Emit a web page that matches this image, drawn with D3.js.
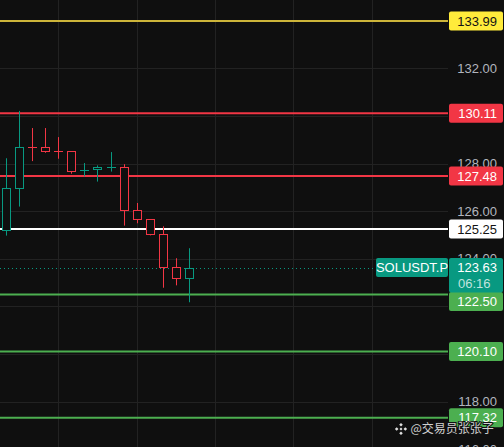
<!DOCTYPE html>
<html><head><meta charset="utf-8">
<script src="https://cdn.jsdelivr.net/npm/d3@7/dist/d3.min.js"></script>
<style>
html,body{margin:0;padding:0;background:#0f0f0f;overflow:hidden}
svg{display:block}
</style></head>
<body>
<svg id="c" width="504" height="447" font-family="Liberation Sans, Arial, sans-serif"></svg>
<script>
// ---- data ----
const opens  = [125.21,126.96,128.68,128.68,128.51,128.51,127.71,127.76,127.83,127.84,126.03,125.66,125.03,123.64,123.18];
const closes = [126.96,128.68,128.67,128.51,128.50,127.67,127.72,127.84,127.84,126.03,125.66,125.03,123.64,123.18,123.63];
const highs  = [128.22,130.21,129.49,129.49,129.11,128.51,128.02,127.92,128.48,127.97,126.34,125.66,125.36,124.02,124.44];
const lows   = [124.97,126.19,128.10,128.45,128.20,127.57,127.46,127.24,127.66,125.39,125.49,124.98,122.78,122.88,122.17];
const levels = [133.99,130.11,127.48,125.25,122.50,120.10,117.32];
const levelKinds = ["yellow","red","red","white","green","green","green"];
const yTicks = [132,130,128,126,124,122,120,118,116];
const yTickLabels = [132,128,126,124,118,116]; // the others are hidden behind level labels
const timeGrid = [4,10,16,22,28];
const symbol = "SOLUSDT.P";
const lastPrice = 123.63;
const countdown = "06:16";
const watermark = "@交易员张张子";

// ---- styles ----
const BG="#0f0f0f", GRID="#222222", UP="#089981", DOWN="#f23645";
const kindStyle = {
  yellow:{line:"#cdb53a", box:"#ffeb3b", text:"#131313"},
  red:{line:"#f23645", box:"#f23645", text:"#ffffff"},
  white:{line:"#ffffff", box:"#ffffff", text:"#131313"},
  green:{line:"#4caf50", box:"#4caf50", text:"#ffffff"}
};

const svg = d3.select("#c");
const plotR = 448;
const y = d3.scaleLinear().domain([116,132]).range([68.3+16*23.8, 68.3]);
const x = d3.scaleLinear().domain([4,10]).range([58.3,136.6]);

svg.append("rect").attr("width",504).attr("height",447).attr("fill",BG);

// grid
const g = svg.append("g");
g.selectAll("line.h").data(yTicks).join("line")
  .attr("x1",0).attr("x2",plotR)
  .attr("y1",d=>Math.round(y(d))+0.5).attr("y2",d=>Math.round(y(d))+0.5)
  .attr("stroke",GRID).attr("stroke-width",1);
g.selectAll("line.v").data(timeGrid).join("line")
  .attr("y1",0).attr("y2",447)
  .attr("x1",d=>Math.round(x(d))+0.5).attr("x2",d=>Math.round(x(d))+0.5)
  .attr("stroke",GRID).attr("stroke-width",1);

// axis tick labels
const axis = d3.axisRight(y).tickValues(yTickLabels).tickSize(0).tickFormat(d3.format(".2f"));
const ax = svg.append("g").attr("transform",`translate(${plotR},0)`).call(axis);
ax.select(".domain").remove();
ax.attr("font-family",null).attr("font-size",null);
ax.selectAll("text").attr("x",497-plotR).attr("text-anchor","end")
  .attr("fill","#b2b5be").style("font-size","13px").style("font-family","Liberation Sans, Arial, sans-serif");

// level lines
svg.append("g").selectAll("line").data(levels).join("line")
  .attr("x1",0).attr("x2",plotR)
  .attr("y1",d=>y(d)).attr("y2",d=>y(d))
  .attr("stroke",(d,i)=>kindStyle[levelKinds[i]].line).attr("stroke-width",2);

// last price dotted line
svg.append("line").attr("x1",0).attr("x2",376)
  .attr("y1",Math.round(y(lastPrice))+0.5).attr("y2",Math.round(y(lastPrice))+0.5)
  .attr("stroke",UP).attr("stroke-width",1).attr("stroke-dasharray","1,3");

// candles
const idx = d3.range(opens.length);
const cg = svg.append("g");
cg.selectAll("line.wick").data(idx).join("line")
  .attr("x1",i=>Math.round(x(i))+0.5).attr("x2",i=>Math.round(x(i))+0.5)
  .attr("y1",i=>y(highs[i])).attr("y2",i=>y(lows[i]))
  .attr("stroke",i=>closes[i]>=opens[i]?UP:DOWN).attr("stroke-width",1);
idx.forEach(i=>{
  const col = closes[i]>=opens[i]?UP:DOWN;
  const cx = Math.round(x(i));
  const y0 = y(Math.max(opens[i],closes[i])), y1 = y(Math.min(opens[i],closes[i]));
  if (y1-y0 < 1.2) {
    cg.append("line").attr("x1",cx-4).attr("x2",cx+5)
      .attr("y1",Math.round(y0)+0.5).attr("y2",Math.round(y0)+0.5)
      .attr("stroke",col).attr("stroke-width",1);
  } else {
    cg.append("rect").attr("x",cx-3.5).attr("width",8)
      .attr("y",Math.round(y0)+0.5).attr("height",Math.round(y1)-Math.round(y0))
      .attr("fill",BG).attr("stroke",col).attr("stroke-width",1);
  }
});

// price box (last price)
const lpY = y(lastPrice);
const pbTop = lpY-9.5, pbBot = lpY+25;
svg.append("rect").attr("x",376).attr("y",pbTop).attr("width",72).attr("height",19).attr("rx",2).attr("fill",UP);
svg.append("text").attr("x",412).attr("y",lpY).attr("dy","0.35em").attr("text-anchor","middle")
  .attr("fill","#ffffff").attr("font-size",13).text(symbol);

// level label boxes
const lb = svg.append("g");
levels.forEach((v,i)=>{
  const st = kindStyle[levelKinds[i]];
  let cy = y(v);
  if (cy-9.5 < pbBot && cy+9.5 > pbTop) cy = pbBot + 9;
  lb.append("rect").attr("x",449).attr("y",cy-9.5).attr("width",54).attr("height",19).attr("rx",2).attr("fill",st.box);
  lb.append("text").attr("x",497).attr("y",cy).attr("dy","0.36em").attr("text-anchor","end")
    .attr("fill",st.text).attr("font-size",13).text(d3.format(".2f")(v));
});

// last price axis box
svg.append("rect").attr("x",449).attr("y",pbTop).attr("width",54).attr("height",pbBot-pbTop).attr("rx",2).attr("fill",UP);
svg.append("text").attr("x",497).attr("y",lpY).attr("dy","0.36em").attr("text-anchor","end")
  .attr("fill","#ffffff").attr("font-size",13).text(d3.format(".2f")(lastPrice));
svg.append("text").attr("x",458).attr("y",lpY+16).attr("dy","0.36em").attr("text-anchor","start")
  .attr("fill","rgba(255,255,255,0.75)").attr("font-size",13).text(countdown);

// watermark
const wm = svg.append("g").attr("transform","translate(401,429)");
const dm = (cx,cy,r)=>`M${cx},${cy-r}L${cx+r},${cy}L${cx},${cy+r}L${cx-r},${cy}Z`;
const logo = [dm(0,-4.3,1.8),dm(0,4.3,1.8),dm(-4.3,0,1.8),dm(4.3,0,1.8),dm(0,0,1.5)].join("");
wm.append("path").attr("d",logo).attr("fill","#e0e0e0").attr("stroke","#111").attr("stroke-width",1).attr("paint-order","stroke");
wm.append("text").attr("x",9.5).attr("y",0).attr("dy","0.36em")
  .style("font-family","'Noto Sans CJK SC', sans-serif").style("font-size","12px")
  .attr("fill","#d0d0d0").attr("stroke","#111").attr("stroke-width",2).attr("paint-order","stroke")
  .text(watermark);
</script>
</body></html>
